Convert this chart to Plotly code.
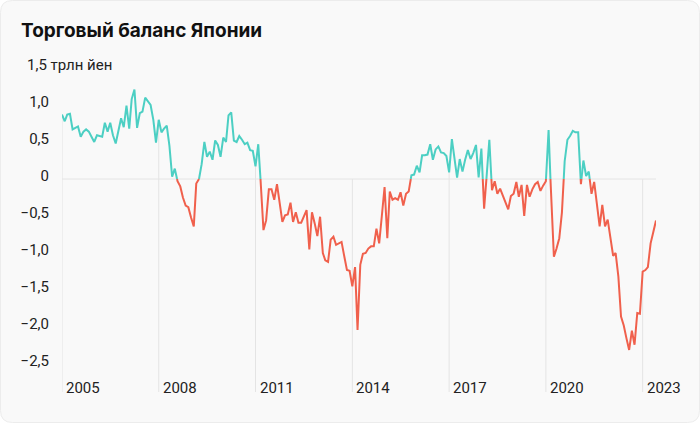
import pandas as pd
import plotly.graph_objects as go

# ---------------- data ----------------
start_month = "2005-01-01"
# monthly trade balance of Japan, trillion yen
balance = [
    0.87, 0.78, 0.87, 0.88, 0.67, 0.69, 0.71, 0.57, 0.64, 0.67, 0.64, 0.57,   # 2005
    0.50, 0.59, 0.58, 0.57, 0.76, 0.64, 0.76, 0.59, 0.48, 0.64, 0.82, 0.70,   # 2006
    0.99, 0.68, 1.08, 1.21, 0.69, 0.89, 0.91, 1.10, 1.05, 1.00, 0.80, 0.49,   # 2007
    0.80, 0.63, 0.68, 0.72, 0.45, 0.03, 0.14, -0.03, -0.10, -0.25, -0.36, -0.38,  # 2008
    -0.52, -0.64, -0.06, 0.00, 0.20, 0.50, 0.30, 0.37, 0.26, 0.52, 0.46, 0.30,  # 2009
    0.56, 0.50, 0.86, 0.90, 0.52, 0.50, 0.58, 0.53, 0.47, 0.49, 0.39, 0.38,   # 2010
    0.17, 0.47, -0.05, -0.69, -0.56, -0.14, -0.14, -0.28, -0.07, -0.33, -0.58, -0.49,  # 2011
    -0.48, -0.32, -0.58, -0.45, -0.59, -0.59, -0.51, -0.42, -0.95, -0.45, -0.60, -0.77,  # 2012
    -0.51, -1.00, -1.10, -1.12, -0.82, -0.78, -0.89, -0.87, -0.85, -1.04, -1.23, -1.24,  # 2013
    -1.45, -1.19, -2.04, -1.16, -1.01, -1.00, -0.94, -0.91, -0.91, -0.67, -0.87, -0.50,  # 2014
    -0.11, -0.80, -0.17, -0.28, -0.26, -0.28, -0.18, -0.36, -0.20, -0.17, 0.05, 0.06,  # 2015
    0.18, 0.09, 0.32, 0.32, 0.33, 0.47, 0.26, 0.40, 0.44, 0.36, 0.35, 0.31,   # 2016
    0.09, 0.54, 0.30, 0.02, 0.27, 0.10, 0.26, 0.39, 0.27, 0.35, 0.46, 0.02,   # 2017
    0.41, -0.40, 0.03, 0.53, -0.15, -0.03, -0.20, -0.13, -0.22, -0.30, -0.41, -0.23,  # 2018
    -0.20, -0.04, -0.24, -0.08, -0.50, -0.08, -0.24, -0.14, -0.07, -0.04, -0.16, -0.09,  # 2019
    -0.03, 0.66, -0.25, -1.05, -0.94, -0.80, -0.45, 0.24, 0.53, 0.58, 0.65, 0.63,  # 2020
    0.63, -0.07, 0.25, 0.04, 0.10, -0.20, -0.04, -0.35, -0.64, -0.35, -0.64, -0.55,  # 2021
    -0.78, -1.04, -1.00, -1.32, -1.86, -1.98, -2.15, -2.31, -2.05, -2.24, -1.81, -1.82,  # 2022
    -1.25, -1.23, -1.19, -0.87, -0.72, -0.56,                                  # 2023
]
months = list(pd.date_range(start_month, periods=len(balance), freq="MS"))

tick_years = [2005, 2008, 2011, 2014, 2017, 2020, 2023]
y_tick_values = [1.0, 0.5, 0.0, -0.5, -1.0, -1.5, -2.0, -2.5]
y_tick_text = ["1,0", "0,5", "0", "−0,5", "−1,0", "−1,5", "−2,0", "−2,5"]
unit_label = "1,5 трлн йен"
title_text = "Торговый баланс Японии"

# ---------------- style ----------------
POS_COLOR = "#4ccfc3"
NEG_COLOR = "#f0604c"
GRID_COLOR = "#e4e4e4"
CARD_BG = "#f9f9f9"
CARD_LINE = "#ececec"
W, H = 700, 423
ML, MR, MT, MB = 62, 44, 50, 31
PW, PH = W - ML - MR, H - MT - MB
Y_RANGE = [-2.878, 1.743]
FONT = "Roboto, Inter, sans-serif"
LABEL_SIZE = 15


def px_to_paper(X, Y):
    return (X - ML) / PW, (H - MB - Y) / PH


# ---- split the series into positive / negative coloured pieces ----
pts = []
for k in range(len(balance)):
    if k > 0:
        y0, y1 = balance[k - 1], balance[k]
        if (y0 >= 0) != (y1 >= 0) and y0 != y1:
            t = y0 / (y0 - y1)
            xc = months[k - 1] + (months[k] - months[k - 1]) * t
            pts.append((xc, 0.0))
    pts.append((months[k], balance[k]))

pieces = {True: ([], []), False: ([], [])}
prev = None
for a, b in zip(pts[:-1], pts[1:]):
    sign = (a[1] + b[1]) / 2 >= 0
    tx, ty = pieces[sign]
    if sign != prev:
        if tx:
            tx.append(None)
            ty.append(None)
        tx.append(a[0])
        ty.append(a[1])
    tx.append(b[0])
    ty.append(b[1])
    prev = sign

fig = go.Figure()
for sign, color in ((True, POS_COLOR), (False, NEG_COLOR)):
    xs, ys = pieces[sign]
    fig.add_trace(go.Scatter(
        x=xs, y=ys, mode="lines",
        line=dict(color=color, width=2),
        connectgaps=False, hoverinfo="skip", showlegend=False,
    ))

# ---------------- shapes ----------------
shapes = []
r = 12
x0p, y0p = 0.5, 0.5
x1p, y1p = W - 0.5, H - 0.5


def P(X, Y):
    px, py = px_to_paper(X, Y)
    return f"{px:.5f},{py:.5f}"


card_path = (
    f"M {P(x0p + r, y0p)} L {P(x1p - r, y0p)} Q {P(x1p, y0p)} {P(x1p, y0p + r)} "
    f"L {P(x1p, y1p - r)} Q {P(x1p, y1p)} {P(x1p - r, y1p)} "
    f"L {P(x0p + r, y1p)} Q {P(x0p, y1p)} {P(x0p, y1p - r)} "
    f"L {P(x0p, y0p + r)} Q {P(x0p, y0p)} {P(x0p + r, y0p)} Z"
)
shapes.append(dict(type="path", xref="paper", yref="paper", path=card_path,
                   fillcolor=CARD_BG, line=dict(color=CARD_LINE, width=1),
                   layer="below"))

# zero line
shapes.append(dict(type="line", xref="x", yref="y", x0=months[0], x1=months[-1],
                   y0=0, y1=0, line=dict(color=GRID_COLOR, width=1), layer="below"))

annotations = []
for yr in tick_years:
    d = pd.Timestamp(f"{yr}-01-01")
    idx = months.index(d)
    top = max(balance[idx], 0.0)
    shapes.append(dict(type="line", xref="x", yref="y", x0=d, x1=d,
                       y0=top, y1=Y_RANGE[0],
                       line=dict(color=GRID_COLOR, width=1), layer="below"))
    annotations.append(dict(x=d, y=-2.82, xref="x", yref="y", text=str(yr),
                            showarrow=False, xanchor="left", yanchor="middle",
                            xshift=2, font=dict(family=FONT, size=LABEL_SIZE, color="#222")))

# title
tx, ty = px_to_paper(19, 31)
annotations.append(dict(x=tx, y=ty, xref="paper", yref="paper", text=title_text,
                        showarrow=False, xanchor="left", yanchor="middle",
                        font=dict(family="Inter, Roboto, sans-serif", size=19,
                                  color="#111", weight=700)))
# unit label
ux, uy = px_to_paper(25, 65)
annotations.append(dict(x=ux, y=uy, xref="paper", yref="paper", text=unit_label,
                        showarrow=False, xanchor="left", yanchor="middle",
                        font=dict(family=FONT, size=LABEL_SIZE, color="#222")))

fig.update_layout(
    width=W, height=H,
    margin=dict(l=ML, r=MR, t=MT, b=MB),
    paper_bgcolor="#ffffff",
    plot_bgcolor="rgba(0,0,0,0)",
    shapes=shapes,
    annotations=annotations,
    xaxis=dict(range=[months[0], months[-1]], showgrid=False, zeroline=False,
               showticklabels=False, showline=False, ticks=""),
    yaxis=dict(range=Y_RANGE, showgrid=False, zeroline=False, showline=False,
               tickvals=y_tick_values, ticktext=y_tick_text, ticks="",
               ticklabelstandoff=12, ticklabelshift=-3,
               tickfont=dict(family=FONT, size=LABEL_SIZE, color="#222")),
)

fig.write_html("out.html")
